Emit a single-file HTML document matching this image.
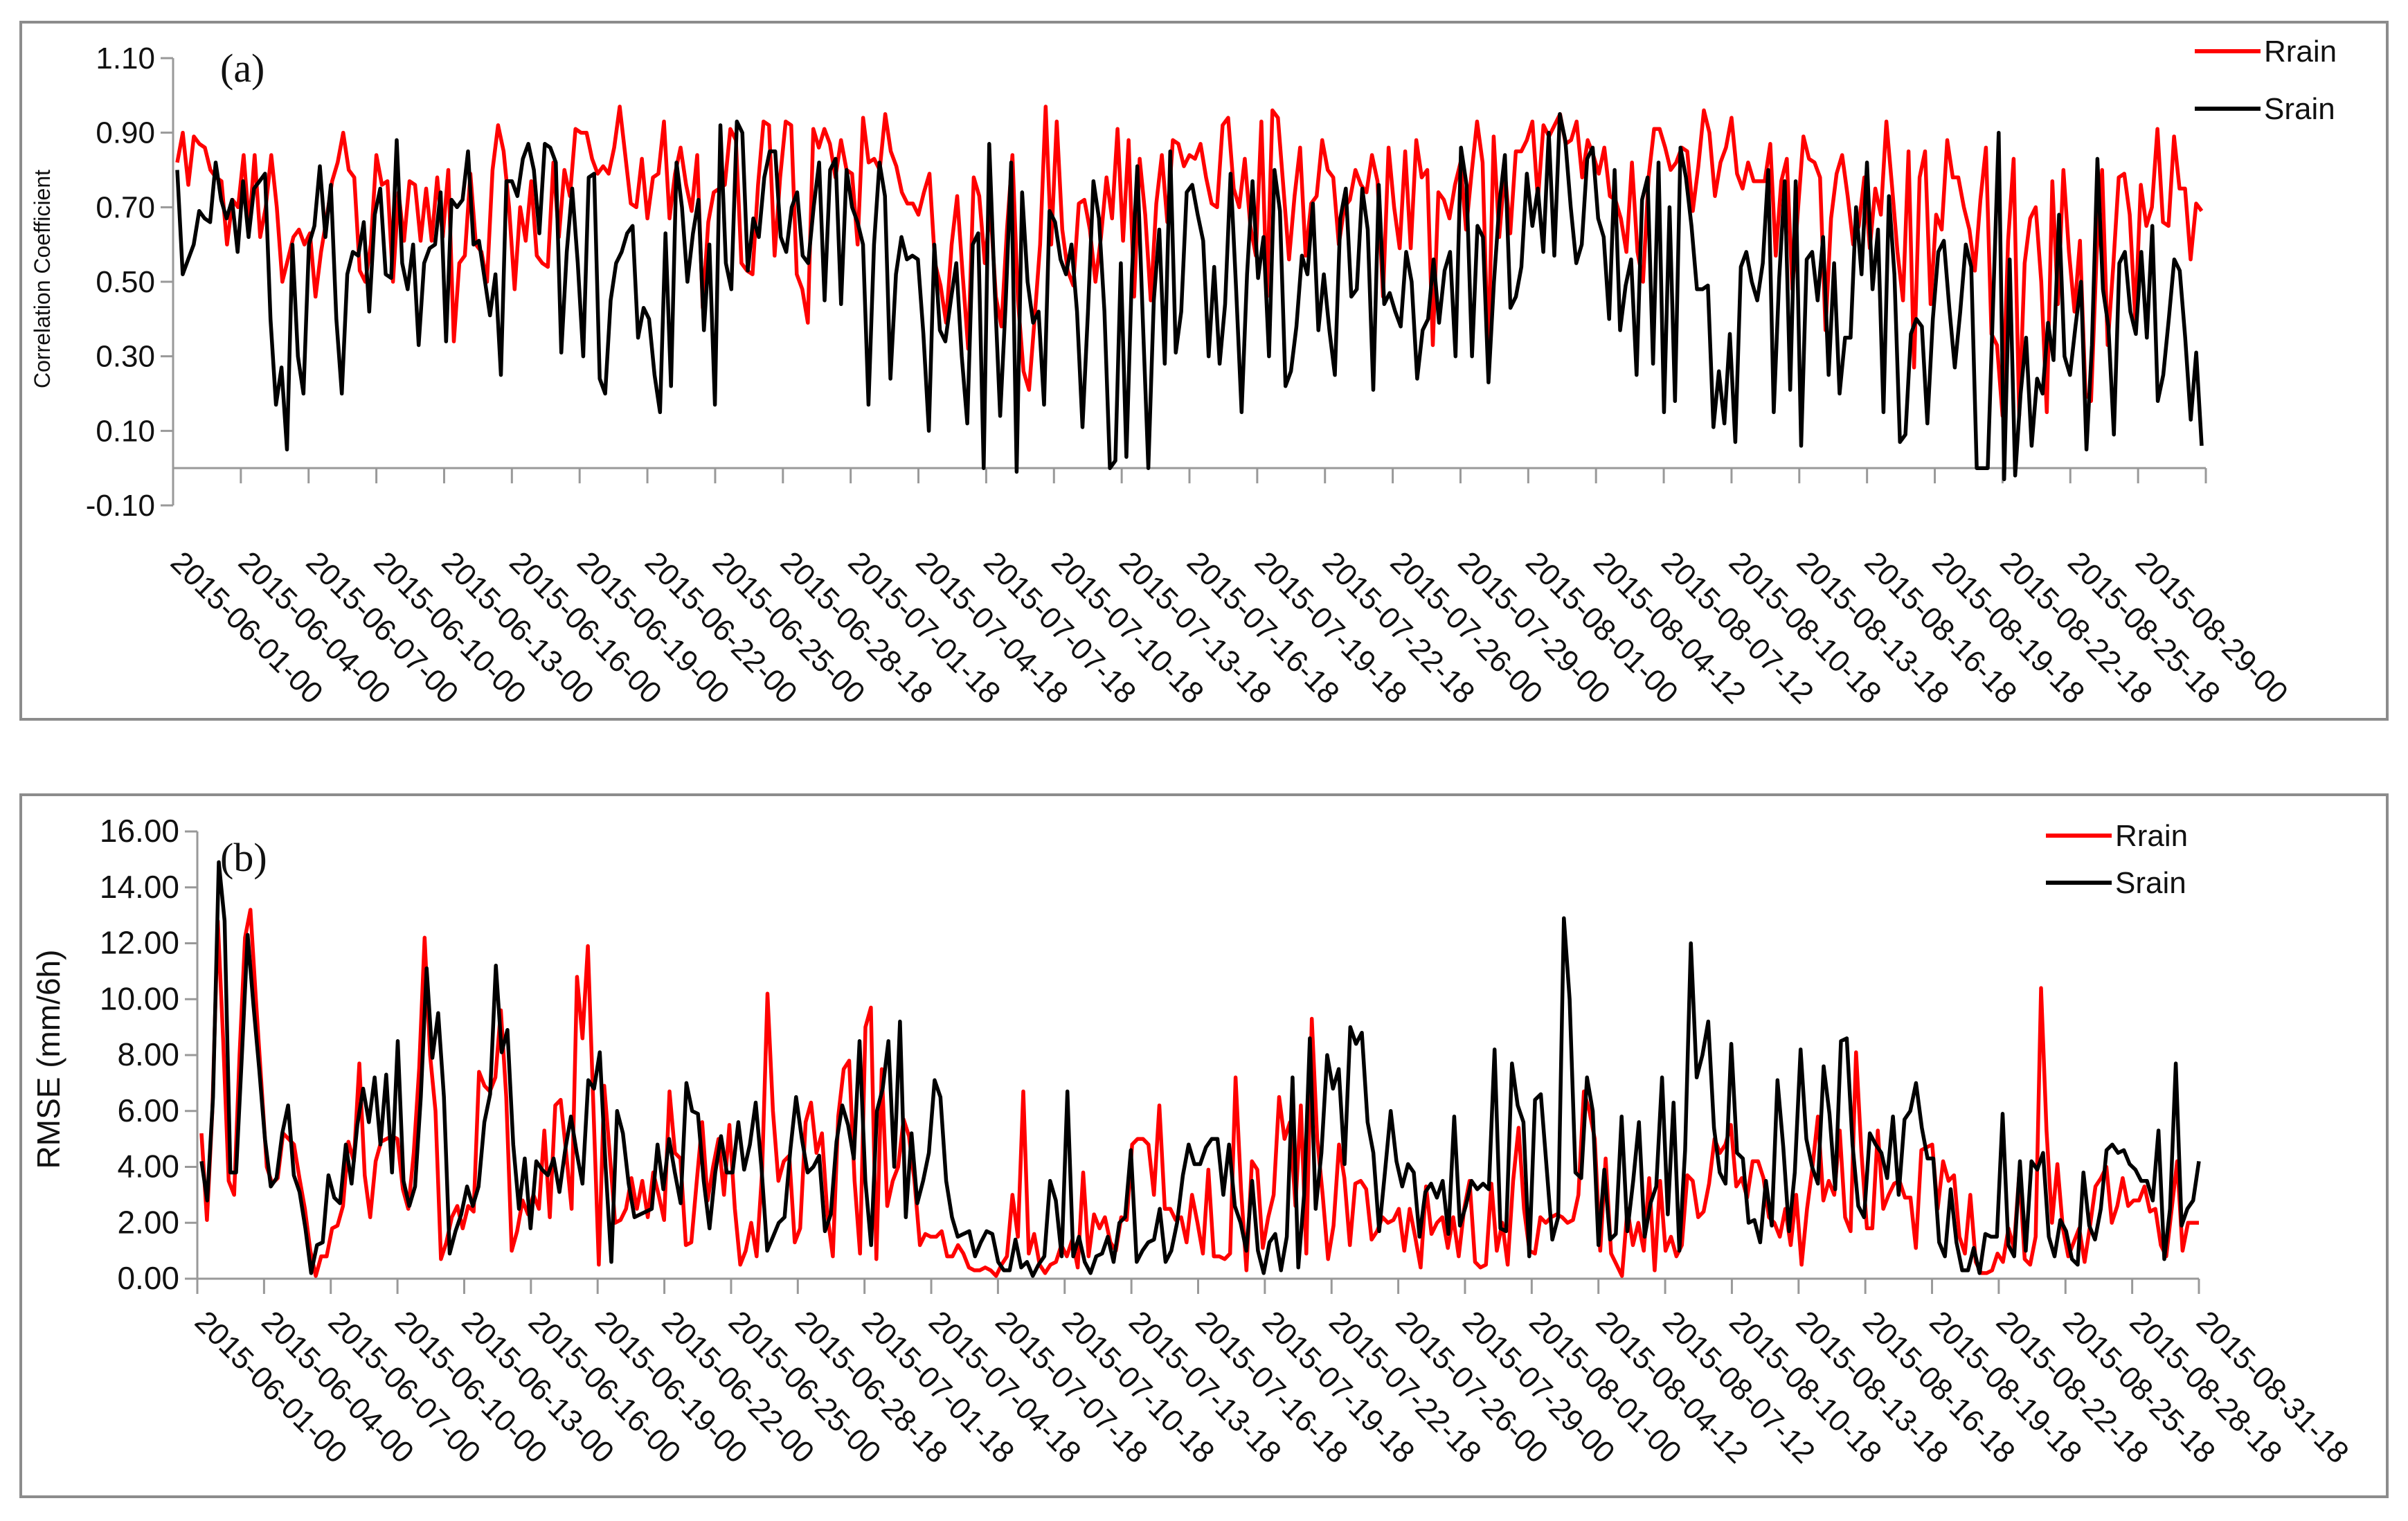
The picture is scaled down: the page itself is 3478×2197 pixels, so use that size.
<!DOCTYPE html>
<html><head><meta charset="utf-8">
<style>
html,body{margin:0;padding:0;background:#fff;}
svg{display:block;}
text{font-family:"Liberation Sans",sans-serif;}
</style></head>
<body>
<svg id="fig" width="3478" height="2197" viewBox="0 0 3478 2197" xmlns="http://www.w3.org/2000/svg">
<rect x="0" y="0" width="3478" height="2197" fill="#fff"/>
<rect x="30" y="32" width="3418" height="1007" fill="none" stroke="#8c8c8c" stroke-width="4"/>
<rect x="30" y="1148" width="3418" height="1014" fill="none" stroke="#8c8c8c" stroke-width="4"/>
<g id="pa"></g>
<g id="pb"></g>
</svg>
<script>
// ---------- Panel (a) data ----------
const aLabels = ["2015-06-01-00","2015-06-04-00","2015-06-07-00","2015-06-10-00","2015-06-13-00","2015-06-16-00","2015-06-19-00","2015-06-22-00","2015-06-25-00","2015-06-28-18","2015-07-01-18","2015-07-04-18","2015-07-07-18","2015-07-10-18","2015-07-13-18","2015-07-16-18","2015-07-19-18","2015-07-22-18","2015-07-26-00","2015-07-29-00","2015-08-01-00","2015-08-04-12","2015-08-07-12","2015-08-10-18","2015-08-13-18","2015-08-16-18","2015-08-19-18","2015-08-22-18","2015-08-25-18","2015-08-29-00"];
const aTicks = [1.10,0.90,0.70,0.50,0.30,0.10,-0.10];
const aSrain = [0.80,0.52,0.56,0.60,0.69,0.67,0.66,0.82,0.72,0.67,0.72,0.58,0.77,0.62,0.75,0.77,0.79,0.40,0.17,0.27,0.05,0.60,0.30,0.20,0.60,0.65,0.81,0.62,0.76,0.40,0.20,0.52,0.58,0.57,0.66,0.42,0.68,0.75,0.52,0.51,0.88,0.55,0.48,0.60,0.33,0.55,0.59,0.60,0.74,0.34,0.72,0.70,0.72,0.85,0.60,0.61,0.51,0.41,0.52,0.25,0.77,0.77,0.73,0.83,0.87,0.80,0.63,0.87,0.86,0.82,0.31,0.58,0.75,0.55,0.30,0.78,0.79,0.24,0.20,0.45,0.55,0.58,0.63,0.65,0.35,0.43,0.40,0.25,0.15,0.63,0.22,0.82,0.70,0.50,0.63,0.72,0.37,0.60,0.17,0.92,0.55,0.48,0.93,0.90,0.53,0.67,0.62,0.78,0.85,0.85,0.62,0.58,0.70,0.74,0.57,0.55,0.70,0.82,0.45,
0.80,0.83,0.44,0.80,0.70,0.66,0.60,0.17,0.60,0.82,0.73,0.24,0.52,0.62,0.56,0.57,0.56,0.36,0.10,0.60,0.37,0.34,0.45,0.55,0.30,0.12,0.60,0.63,0.00,0.87,0.48,0.14,0.44,0.82,-0.01,0.74,0.50,0.39,0.42,0.17,0.69,0.66,0.56,0.52,0.60,0.42,0.11,0.42,0.77,0.67,0.42,0.00,0.02,0.55,0.03,0.52,0.81,0.40,0.00,0.45,0.64,0.28,0.85,0.31,0.42,0.74,0.76,0.68,0.61,0.30,0.54,0.28,0.44,0.79,0.48,0.15,0.52,0.77,0.51,0.62,0.30,0.80,0.69,0.22,0.26,0.38,0.57,0.52,0.71,0.37,0.52,0.37,0.25,0.67,0.75,0.46,0.48,0.75,0.64,0.21,0.76,0.44,0.47,0.42,0.38,0.58,0.50,0.24,0.37,0.40,0.56,0.39,0.53,0.58,0.30,0.86,0.76,0.30,0.65,0.62,0.23,0.50,0.71,0.84,0.43,0.46,0.54,0.79,0.65,0.75,0.58,0.90,
0.57,0.95,0.88,0.70,0.55,0.60,0.83,0.86,0.67,0.62,0.40,0.80,0.37,0.49,0.56,0.25,0.72,0.78,0.28,0.82,0.15,0.70,0.18,0.86,0.78,0.65,0.48,0.48,0.49,0.11,0.26,0.12,0.36,0.07,0.54,0.58,0.50,0.45,0.55,0.80,0.15,0.51,0.77,0.21,0.77,0.06,0.56,0.58,0.45,0.62,0.25,0.55,0.20,0.35,0.35,0.70,0.52,0.82,0.48,0.64,0.15,0.73,0.52,0.07,0.09,0.36,0.40,0.38,0.12,0.40,0.58,0.61,0.43,0.27,0.42,0.60,0.54,0.00,0.00,0.00,0.45,0.90,-0.03,0.56,-0.02,0.20,0.35,0.06,0.24,0.20,0.39,0.29,0.68,0.30,0.25,0.38,0.50,0.05,0.33,0.83,0.48,0.38,0.09,0.55,0.58,0.42,0.36,0.58,0.35,0.65,0.18,0.25,0.40,0.56,0.53,0.35,0.13,0.31,0.06];
const aRrain = [0.82,0.90,0.76,0.89,0.87,0.86,0.80,0.78,0.77,0.60,0.72,0.70,0.84,0.65,0.84,0.62,0.70,0.84,0.70,0.50,0.56,0.62,0.64,0.60,0.63,0.46,0.58,0.67,0.77,0.82,0.90,0.80,0.78,0.53,0.50,0.60,0.84,0.76,0.77,0.50,0.74,0.61,0.77,0.76,0.61,0.75,0.61,0.78,0.62,0.80,0.34,0.55,0.57,0.79,0.60,0.58,0.50,0.80,0.92,0.85,0.70,0.48,0.70,0.61,0.77,0.57,0.55,0.54,0.82,0.62,0.80,0.73,0.91,0.90,0.90,0.83,0.79,0.81,0.79,0.86,0.97,0.84,0.71,0.70,0.83,0.67,0.78,0.79,0.93,0.67,0.79,0.86,0.76,0.69,0.84,0.43,0.66,0.74,0.75,0.76,0.91,0.88,0.55,0.53,0.52,0.76,0.93,0.92,0.57,0.78,0.93,0.92,0.52,0.48,0.39,0.91,0.86,0.91,0.87,0.78,0.88,0.80,0.79,0.60,0.94,0.82,0.83,0.80,
0.95,0.85,0.81,0.74,0.71,0.71,0.68,0.74,0.79,0.55,0.49,0.39,0.60,0.73,0.52,0.32,0.78,0.73,0.55,0.70,0.46,0.38,0.64,0.84,0.45,0.26,0.21,0.40,0.60,0.97,0.60,0.93,0.64,0.53,0.49,0.71,0.72,0.64,0.50,0.62,0.78,0.67,0.91,0.61,0.88,0.46,0.83,0.68,0.45,0.71,0.84,0.66,0.88,0.87,0.81,0.84,0.83,0.87,0.78,0.71,0.70,0.92,0.94,0.75,0.70,0.83,0.65,0.57,0.93,0.46,0.96,0.94,0.75,0.56,0.73,0.86,0.57,0.71,0.73,0.88,0.80,0.78,0.60,0.70,0.72,0.80,0.76,0.74,0.84,0.77,0.46,0.86,0.70,0.59,0.85,0.59,0.88,0.78,0.80,0.33,0.74,0.72,0.67,0.76,0.82,0.64,0.79,0.93,0.82,0.29,0.89,0.62,0.80,0.63,0.85,0.85,0.88,0.93,0.72,0.92,0.89,0.92,0.95,
0.87,0.88,0.93,0.78,0.88,0.84,0.79,0.86,0.73,0.72,0.67,0.58,0.82,0.58,0.50,0.78,0.91,0.91,0.86,0.80,0.82,0.86,0.85,0.69,0.81,0.96,0.90,0.73,0.82,0.86,0.94,0.79,0.75,0.82,0.77,0.77,0.77,0.87,0.57,0.77,0.83,0.48,0.69,0.89,0.83,0.82,0.78,0.37,0.67,0.79,0.84,0.73,0.60,0.65,0.78,0.59,0.75,0.68,0.93,0.76,0.58,0.45,0.85,0.27,0.78,0.85,0.44,0.68,0.64,0.88,0.78,0.78,0.70,0.64,0.53,0.72,0.86,0.36,0.33,0.14,0.61,0.83,0.14,0.55,0.67,0.70,0.50,0.15,0.77,0.44,0.80,0.58,0.42,0.61,0.20,0.18,0.57,0.80,0.33,0.54,0.78,0.79,0.68,0.40,0.76,0.65,0.70,0.91,0.66,0.65,0.89,0.75,0.75,0.56,0.71,0.69];

// ---------- Panel (b) data ----------
const bLabels = ["2015-06-01-00","2015-06-04-00","2015-06-07-00","2015-06-10-00","2015-06-13-00","2015-06-16-00","2015-06-19-00","2015-06-22-00","2015-06-25-00","2015-06-28-18","2015-07-01-18","2015-07-04-18","2015-07-07-18","2015-07-10-18","2015-07-13-18","2015-07-16-18","2015-07-19-18","2015-07-22-18","2015-07-26-00","2015-07-29-00","2015-08-01-00","2015-08-04-12","2015-08-07-12","2015-08-10-18","2015-08-13-18","2015-08-16-18","2015-08-19-18","2015-08-22-18","2015-08-25-18","2015-08-28-18","2015-08-31-18"];
const bTicks = [16,14,12,10,8,6,4,2,0];
const bSrain = [4.2,2.8,6.5,14.9,12.8,3.8,3.8,8.0,12.3,9.8,7.5,5.0,3.3,3.6,5.2,6.2,3.7,3.1,1.8,0.2,1.2,1.3,3.7,2.9,2.7,4.8,3.4,5.5,6.8,5.6,7.2,4.8,7.3,3.8,8.5,3.5,2.6,3.3,6.5,11.1,7.9,9.5,6.5,0.9,1.7,2.3,3.3,2.6,3.3,5.6,6.6,11.2,8.1,8.9,4.8,2.5,4.3,1.8,4.2,3.9,3.7,4.3,3.1,4.6,5.8,4.5,3.4,7.1,6.8,8.1,4.0,0.6,6.0,5.2,3.4,2.2,2.3,2.4,2.5,4.8,3.2,5.0,3.8,2.7,7.0,6.0,5.9,3.5,1.8,3.8,5.1,3.8,3.8,5.6,3.9,4.8,6.3,4.0,1.0,1.5,2.0,2.2,4.6,6.5,5.0,3.8,4.0,4.4,1.7,2.3,4.9,6.2,5.5,4.3,8.5,3.5,1.2,6.0,6.8,8.5,4.0,9.2,
2.2,5.2,2.7,3.5,4.5,7.1,6.5,3.5,2.2,1.5,1.6,1.7,0.8,1.3,1.7,1.6,0.6,0.3,0.3,1.4,0.4,0.6,0.1,0.5,0.8,3.5,2.8,0.8,6.7,0.8,1.5,0.6,0.2,0.8,0.9,1.5,0.6,2.0,2.2,4.6,0.6,1.0,1.3,1.4,2.5,0.6,1.0,2.0,3.7,4.8,4.1,4.1,4.7,5.0,5.0,3.0,4.8,2.6,2.0,1.0,3.5,1.0,0.2,1.3,1.6,0.3,1.5,7.2,0.4,3.0,8.6,2.5,4.5,8.0,6.8,7.5,4.1,9.0,8.4,8.8,5.6,4.5,1.7,3.8,6.0,4.2,3.3,4.1,3.8,1.5,3.1,3.4,2.9,3.5,1.6,5.8,1.9,2.6,3.5,3.2,3.4,3.2,8.2,1.8,1.7,7.7,6.2,5.6,0.8,6.4,6.6,4.0,1.4,2.2,12.9,10.0,
3.8,3.6,7.2,6.0,1.2,3.9,1.4,1.6,5.8,1.7,3.5,5.6,1.5,2.7,3.3,7.2,2.3,6.3,1.0,4.6,12.0,7.2,8.0,9.2,5.4,3.8,3.4,8.4,4.5,4.3,2.0,2.1,1.3,3.5,1.9,7.1,4.7,1.7,3.8,8.2,5.0,4.0,3.4,7.6,5.9,3.2,8.5,8.6,4.8,2.6,2.2,5.2,4.8,4.5,3.6,5.8,3.0,5.7,6.0,7.0,5.4,4.3,4.3,1.3,0.8,3.2,1.3,0.3,0.3,1.1,0.2,1.6,1.5,1.5,5.9,1.2,0.8,4.2,1.0,4.2,3.9,4.5,1.5,0.8,2.1,1.7,0.7,0.5,3.8,1.9,1.4,2.5,4.6,4.8,4.5,4.6,4.1,3.9,3.5,3.5,2.8,5.3,0.7,2.5,7.7,1.9,2.5,2.8,4.2];
const bRrain = [5.2,2.1,6.0,12.8,8.5,3.5,3.0,8.0,12.2,13.2,10.0,7.0,4.0,3.4,3.6,5.2,5.0,4.8,3.6,2.5,1.0,0.1,0.8,0.8,1.8,1.9,2.6,4.9,4.2,7.7,3.7,2.2,4.2,4.9,5.0,5.1,5.0,3.2,2.5,4.5,7.5,12.2,8.0,6.0,0.7,1.3,2.2,2.6,1.8,2.6,2.4,7.4,6.9,6.7,7.2,9.6,6.5,1.0,1.7,2.8,2.3,3.0,2.5,5.3,2.2,6.2,6.4,4.5,2.5,10.8,8.6,11.9,6.2,0.5,6.9,4.5,2.0,2.1,2.5,3.6,2.5,3.5,2.2,3.8,3.0,2.1,6.7,4.5,4.3,1.2,1.3,3.5,5.6,2.8,4.0,5.0,3.0,5.5,2.5,0.5,1.0,2.0,0.8,3.8,10.2,6.0,3.5,4.2,4.4,1.3,1.8,5.6,6.3,4.5,5.2,2.3,0.8,5.8,7.5,7.8,3.5,0.9,9.0,9.7,
0.7,7.5,2.6,3.5,4.0,5.7,5.1,3.5,1.2,1.6,1.5,1.5,1.7,0.8,0.8,1.2,0.9,0.4,0.3,0.3,0.4,0.3,0.1,0.5,0.8,3.0,1.5,6.7,0.9,1.6,0.5,0.2,0.5,0.6,1.2,0.8,1.4,0.4,3.8,0.8,2.3,1.8,2.2,1.3,1.0,2.2,2.1,4.8,5.0,5.0,4.8,3.0,6.2,2.5,2.5,2.1,2.2,1.3,3.0,2.0,0.9,3.9,0.8,0.8,0.7,0.9,7.2,3.2,0.3,4.2,3.9,1.1,2.2,3.0,6.5,5.0,5.6,2.6,6.2,0.9,9.3,5.0,3.0,0.7,1.9,4.8,3.6,1.2,3.4,3.5,3.2,1.4,1.7,2.2,2.0,2.1,2.5,1.0,2.5,1.5,0.4,3.3,1.6,2.0,2.2,1.1,2.2,0.8,2.5,3.5,0.6,0.4,0.5,3.4,1.0,2.0,0.5,3.5,5.4,2.5,1.0,0.9,2.2,2.0,2.2,2.3,
2.2,2.0,2.1,3.0,6.7,6.0,5.0,1.0,4.3,0.9,0.5,0.1,2.5,1.2,2.0,1.0,3.6,0.3,3.5,1.0,1.5,0.8,1.2,3.7,3.5,2.2,2.4,3.4,5.0,4.5,4.8,5.5,3.3,3.6,2.9,4.2,4.2,3.6,2.2,2.0,1.5,2.5,1.2,3.0,0.5,2.5,4.0,5.8,2.8,3.5,3.0,5.3,2.2,1.7,8.1,4.5,1.8,1.8,5.3,2.5,3.0,3.4,3.5,2.9,2.9,1.1,4.6,4.7,4.8,2.5,4.2,3.5,3.7,1.5,0.9,3.0,0.6,0.2,0.2,0.3,0.9,0.6,1.8,1.1,3.8,0.7,0.5,1.5,10.4,5.3,2.0,4.1,1.8,0.8,1.3,1.8,0.6,1.9,3.3,3.6,4.0,2.0,2.6,3.6,2.6,2.8,2.8,3.3,2.4,2.5,1.2,0.8,2.5,4.2,1.0,2.0,2.0,2.0];

const NS = "http://www.w3.org/2000/svg";
function mk(parent, tag, attrs, txt){
  const e = document.createElementNS(NS, tag);
  for (const k in attrs) e.setAttribute(k, attrs[k]);
  if (txt !== undefined) e.textContent = txt;
  parent.appendChild(e);
  return e;
}

function drawPanel(g, cfg){
  const yScale = v => cfg.y0px - (v - cfg.ymin) / (cfg.ymax - cfg.ymin) * (cfg.y0px - cfg.y1px);
  const tickStep = (cfg.xEnd - cfg.x0) / cfg.nIntervals;
  const ya = mk(g, 'line', {x1:cfg.x0, y1:yScale(cfg.ymax), x2:cfg.x0, y2:yScale(cfg.ymin), stroke:'#999', 'stroke-width':3});
  
  
  cfg.yTicks.forEach(t => {
    const y = yScale(t);
    const tk = mk(g, 'line', {x1:cfg.x0 - 18, y1:y, x2:cfg.x0, y2:y, stroke:'#999', 'stroke-width':3});
    
    
    const lb = mk(g, 'text', {x:cfg.x0 - 26, y:y + 15, 'text-anchor':'end', 'font-size':cfg.yFont, fill:'#111'}, t.toFixed(2));
    
    
  });
  const xa = mk(g, 'line', {x1:cfg.x0, y1:yScale(0), x2:cfg.xEnd, y2:yScale(0), stroke:'#999', 'stroke-width':3});
  
  
  const yAx = yScale(0);
  for (let i = 0; i <= cfg.nIntervals; i++){
    const x = cfg.x0 + i * tickStep;
    const tk = mk(g, 'line', {x1:x, y1:yAx, x2:x, y2:yAx + 22, stroke:'#999', 'stroke-width':3});
    
    
  }
  cfg.labels.forEach((s, i) => {
    const x = cfg.x0 + i * tickStep - 6;
    const y = cfg.labelY;
    const lb = mk(g, 'text', {x:x, y:y, 'font-size':cfg.xFont, fill:'#111', transform:'rotate(45 ' + x + ' ' + y + ')'}, s);
    
    
  });
  cfg.series.forEach(sr => {
    const n = sr.values.length;
    const pts = sr.values.map((v, i) => (cfg.x0 + 6 + i / (n - 1) * (cfg.dataEnd - cfg.x0 - 6)).toFixed(1) + ',' + yScale(v).toFixed(1)).join(' ');
    const pl = mk(g, 'polyline', {points:pts, fill:'none', stroke:sr.color, 'stroke-width':5.5, 'stroke-linejoin':'round'});
    
    
  });
  cfg.legend.forEach(L => {
    const ln = mk(g, 'line', {x1:L.x, y1:L.y, x2:L.x + 95, y2:L.y, stroke:L.color, 'stroke-width':6});
    
    
    const tx = mk(g, 'text', {x:L.x + 100, y:L.y + 15, 'font-size':44, fill:'#111'}, L.text);
    
    
  });
  const pt = mk(g, 'text', {x:cfg.letterX, y:cfg.letterY, 'font-size':58, fill:'#111', style:'font-family:"Liberation Serif",serif'}, cfg.letter);
  
  
  const yt = mk(g, 'text', {x:cfg.ytX, y:cfg.ytY, 'font-size':cfg.ytFont, fill:'#111', 'text-anchor':'middle', transform:'rotate(-90 ' + cfg.ytX + ' ' + cfg.ytY + ')'}, cfg.ytitle);
  
  
}

drawPanel(document.getElementById('pa'), {
  id:'panel-a', x0:250, xEnd:3186, dataEnd:3180, nIntervals:30,
  ymin:-0.10, ymax:1.10, y0px:730, y1px:84,
  yTicks:aTicks, yFont:44, labels:aLabels, xFont:44, labelY:815,
  series:[{name:'rrain-correlation-line', color:'#ff0000', values:aRrain},{name:'srain-correlation-line', color:'#000', values:aSrain}],
  legend:[{x:3170, y:74, color:'#ff0000', text:'Rrain'},{x:3170, y:157, color:'#000', text:'Srain'}],
  letter:'(a)', letterX:318, letterY:118,
  ytitle:'Correlation Coefficient', ytX:72, ytY:403, ytFont:32
});
drawPanel(document.getElementById('pb'), {
  id:'panel-b', x0:285, xEnd:3176, dataEnd:3176, nIntervals:30,
  ymin:0, ymax:16, y0px:1847, y1px:1201,
  yTicks:bTicks, yFont:46, labels:bLabels, xFont:44, labelY:1912,
  series:[{name:'rrain-rmse-line', color:'#ff0000', values:bRrain},{name:'srain-rmse-line', color:'#000', values:bSrain}],
  legend:[{x:2955, y:1207, color:'#ff0000', text:'Rrain'},{x:2955, y:1275, color:'#000', text:'Srain'}],
  letter:'(b)', letterX:318, letterY:1258,
  ytitle:'RMSE (mm/6h)', ytX:86, ytY:1530, ytFont:46
});
</script>
</body></html>
